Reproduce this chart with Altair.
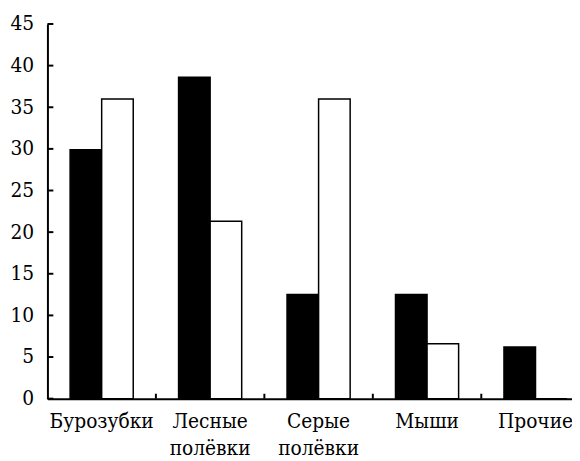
import altair as alt
import pandas as pd

categories = ["Бурозубки", "Лесные полёвки", "Серые полёвки", "Мыши", "Прочие"]
series_black = [29.9, 38.6, 12.5, 12.5, 6.2]
series_white = [36.0, 21.3, 36.0, 6.6, 0.0]
series_names = ["Серия 1", "Серия 2"]
series_fill = ["#000000", "#ffffff"]
y_ticks = [0, 5, 10, 15, 20, 25, 30, 35, 40, 45]

rows = []
for c, b, w in zip(categories, series_black, series_white):
    rows.append({"cat": c, "series": series_names[0], "value": b})
    rows.append({"cat": c, "series": series_names[1], "value": w})
df = pd.DataFrame(rows)
df_yticks = pd.DataFrame({"v": y_ticks})
df_xticks = pd.DataFrame({"cat": categories[1:]})

H = 380
FONT = "DejaVu Serif Condensed, DejaVu Serif"

x_scale = alt.Scale(domain=categories, range=[0, 550], paddingInner=0.418, paddingOuter=0.209)
y_scale = alt.Scale(domain=[0, 45], nice=False)
y_axis = alt.Axis(orient="left", domain=True, domainColor="black", domainWidth=2,
                  ticks=False, values=y_ticks, labelFont=FONT,
                  labelFontSize=21, labelColor="black", labelPadding=14, grid=False)

bars = alt.Chart(df).mark_bar(stroke="black", strokeWidth=1.5).encode(
    x=alt.X("cat:N", scale=x_scale, sort=categories, title=None,
            axis=alt.Axis(orient="bottom", domain=True, domainColor="black", domainWidth=2,
                          ticks=False, labels=True, labelAngle=0, labelFont=FONT,
                          labelFontSize=21, labelColor="black", labelPadding=12,
                          labelLineHeight=28, labelExpr="split(datum.label, ' ')")),
    xOffset=alt.XOffset("series:N", sort=series_names,
                        scale=alt.Scale(domain=series_names, paddingInner=0, paddingOuter=0)),
    y=alt.Y("value:Q", scale=y_scale, title=None, axis=y_axis),
    fill=alt.Fill("series:N", scale=alt.Scale(domain=series_names, range=series_fill), legend=None),
)

yticks = alt.Chart(df_yticks).mark_rule(color="black", strokeWidth=2).encode(
    y=alt.Y("v:Q", scale=y_scale, title=None, axis=y_axis),
    x=alt.value(0), x2=alt.value(6),
)

xticks = alt.Chart(df_xticks).mark_rule(color="black", strokeWidth=2).encode(
    x=alt.X("cat:N", bandPosition=0, axis=None,
            scale=alt.Scale(domain=categories, range=[0, 550], paddingInner=0, paddingOuter=0)),
    y=alt.value(H - 5), y2=alt.value(H),
)

chart = alt.layer(bars, yticks, xticks).resolve_scale(x="independent").properties(
    width=532, height=H,
    autosize=alt.AutoSizeParams(type="none"),
    padding={"left": 40, "top": 13, "right": 0, "bottom": 60},
).configure_view(stroke=None)

chart.save("out.html", embed_options={"renderer": "svg", "actions": False})
